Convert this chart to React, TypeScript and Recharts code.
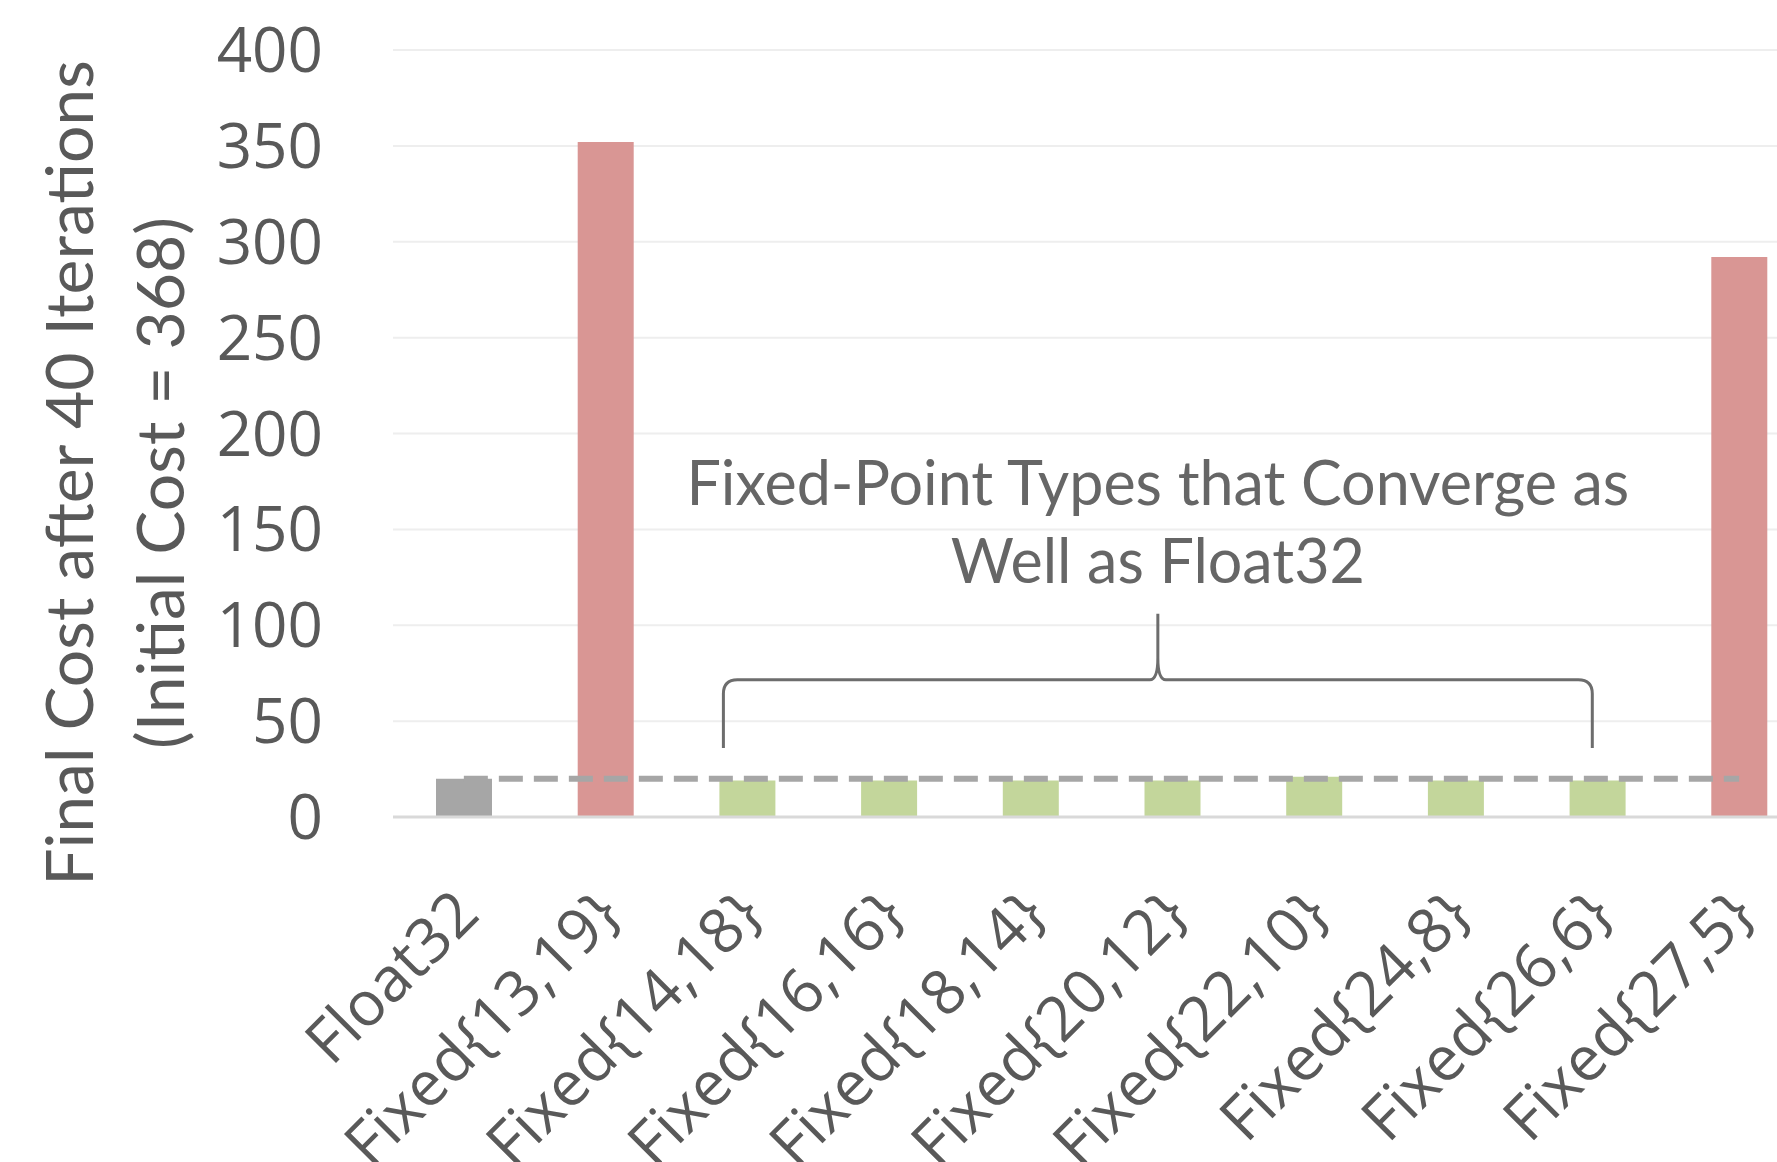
import React from "react";
import {
  BarChart,
  Bar,
  Cell,
  XAxis,
  YAxis,
  CartesianGrid,
  ReferenceLine,
  ReferenceArea,
  Label,
} from "recharts";

// categories and final cost after 40 iterations
const types = [
  "Float32",
  "Fixed{13,19}",
  "Fixed{14,18}",
  "Fixed{16,16}",
  "Fixed{18,14}",
  "Fixed{20,12}",
  "Fixed{22,10}",
  "Fixed{24,8}",
  "Fixed{26,6}",
  "Fixed{27,5}",
];
const finalCost = [20, 352, 19, 19, 19, 19, 21, 19, 19, 292];
// gray = reference float, red = diverges, green = converges
const status = ["float", "bad", "good", "good", "good", "good", "good", "good", "good", "bad"];
const yTicks = [0, 50, 100, 150, 200, 250, 300, 350, 400];
const float32Level = 20;
const braceFrom = "Fixed{14,18}";
const braceTo = "Fixed{26,6}";
const braceLow = 36;
const braceHigh = 106;
const noteLines = ["Fixed-Point Types that Converge as", "Well as Float32"];
const titleLines = ["Final Cost after 40 Iterations", "(Initial Cost = 368)"];

const colors: Record<string, string> = {
  float: "#a6a6a6",
  bad: "#d99694",
  good: "#c3d69b",
};

const data = types.map((name, i) => ({ name, cost: finalCost[i], status: status[i] }));

const textGray = "#595959";

const XTick = ({ x, y, payload }: any) => {
  const ax = x + 18;
  const ay = y + 100;
  return (
    <text
      x={ax}
      y={ay}
      transform={`rotate(-45, ${ax}, ${ay})`}
      textAnchor="end"
      fill={textGray}
      fontFamily="Open Sans"
      fontSize={62}
    >
      {payload.value}
    </text>
  );
};

const Brace = (props: any) => {
  const { x, y, width, height } = props;
  const L = x + 47;
  const R = x + width - 76;
  const C = (L + R) / 2;
  const yEnd = y + height;
  const yH = y + 66;
  const yTip = y;
  const r = 14;
  const d = [
    `M ${L} ${yEnd} L ${L} ${yH + r} Q ${L} ${yH} ${L + r} ${yH}`,
    `L ${C - 8} ${yH} Q ${C} ${yH} ${C} ${yH - 22} L ${C} ${yTip}`,
    `M ${C} ${yH - 22} Q ${C} ${yH} ${C + 8} ${yH}`,
    `L ${R - r} ${yH} Q ${R} ${yH} ${R} ${yH + r} L ${R} ${yEnd}`,
  ].join(" ");
  return (
    <g>
      <path d={d} fill="none" stroke="#6d6d6d" strokeWidth={3} />
      <text
        x={C}
        textAnchor="middle"
        fill="#666666"
        fontFamily="Lato"
        fontSize={61}
      >
        <tspan x={C} y={yTip - 109}>{noteLines[0]}</tspan>
        <tspan x={C} y={yTip - 31}>{noteLines[1]}</tspan>
      </text>
    </g>
  );
};

const YTitle = (props: any) => {
  const vb = props.viewBox || { x: 0, y: 50, width: 393, height: 767 };
  const cy = vb.y + 423;
  return (
    <g fill={textGray} fontFamily="Lato" fontSize={66}>
      <text x={93} y={cy} transform={`rotate(-90, 93, ${cy})`} textAnchor="middle">
        {titleLines[0]}
      </text>
      <text x={184} y={cy + 10} transform={`rotate(-90, 184, ${cy + 10})`} textAnchor="middle">
        {titleLines[1]}
      </text>
    </g>
  );
};

export default function App() {
  return (
    <div
      style={{
        position: "absolute",
        left: 0,
        top: 0,
        width: 1777,
        height: 1162,
        overflow: "hidden",
        background: "#ffffff",
      }}
    >
      <BarChart
        width={1810}
        height={1162}
        data={data}
        margin={{ top: 50, right: 0, bottom: 0, left: 0 }}
      >
        <CartesianGrid vertical={false} stroke="#eeeeee" strokeWidth={2} />
        <XAxis
          dataKey="name"
          interval={0}
          height={345}
          tickLine={false}
          tickSize={0}
          tickMargin={0}
          axisLine={{ stroke: "#d9d9d9", strokeWidth: 3 }}
          tick={<XTick />}
        />
        <YAxis
          width={393}
          domain={[0, 400]}
          ticks={yTicks}
          tickLine={false}
          axisLine={false}
          tickSize={0}
          tickMargin={70}
          tick={{ fill: textGray, fontFamily: "Open Sans", fontSize: 62 }}
        >
          <Label content={<YTitle />} />
        </YAxis>
        <Bar dataKey="cost" barSize={56} isAnimationActive={false}>
          {data.map((d) => (
            <Cell key={d.name} fill={colors[d.status]} />
          ))}
        </Bar>
        <ReferenceLine
          segment={[
            { x: types[0], y: float32Level },
            { x: types[types.length - 1], y: float32Level },
          ]}
          stroke="#a6a6a6"
          strokeWidth={6}
          strokeDasharray="24 11"
        />
        <ReferenceArea
          x1={braceFrom}
          x2={braceTo}
          y1={braceLow}
          y2={braceHigh}
          shape={(p: any) => <Brace {...p} />}
        />
      </BarChart>
    </div>
  );
}
